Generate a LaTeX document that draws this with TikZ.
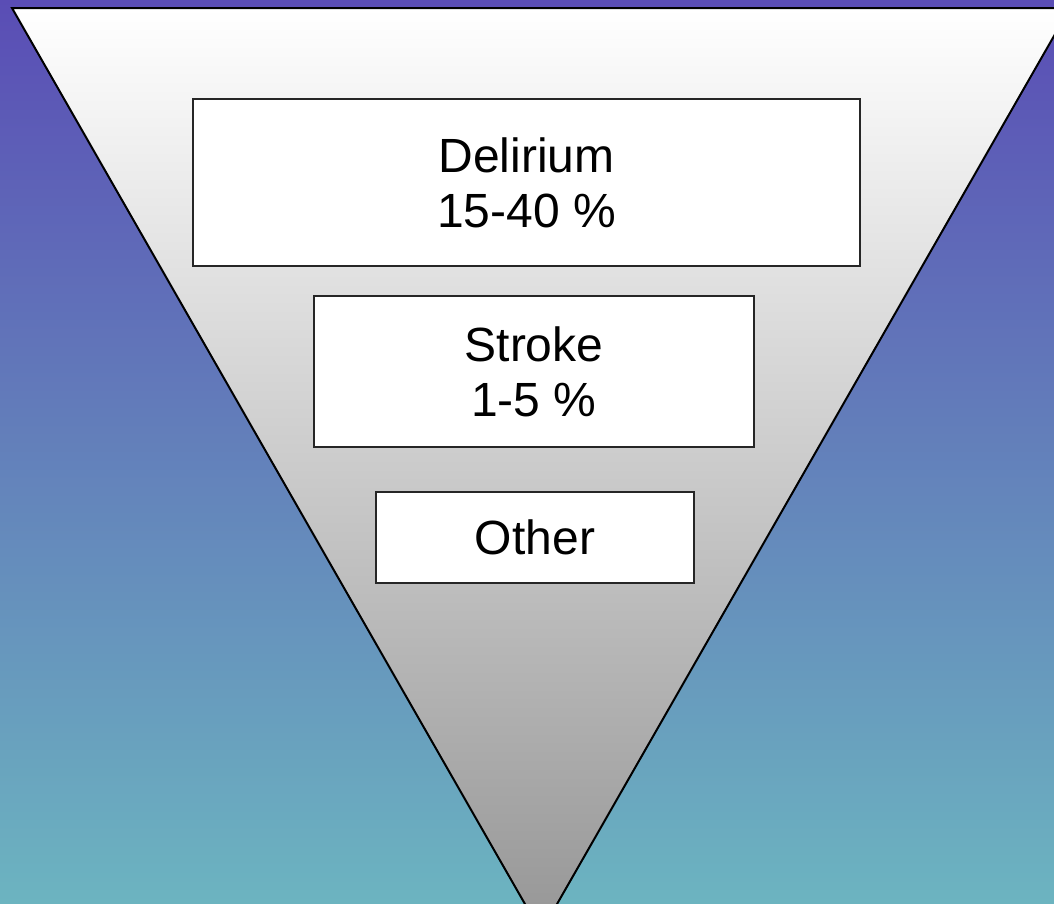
\documentclass[tikz,border=0pt]{standalone}
\usepackage{fontspec}
\setmainfont{Liberation Sans}
\definecolor{bgtop}{RGB}{90,77,181}
\definecolor{bgmid}{RGB}{104,145,188}
\definecolor{bgbot}{RGB}{108,180,192}
\definecolor{funtop}{RGB}{255,255,255}
\definecolor{funbot}{RGB}{150,150,150}
\tikzset{
  infobox/.style={draw=black!85, line width=1.4pt, fill=white, align=center,
    inner sep=0pt, font=\fontsize{48}{55}\selectfont},
  funnel/.style={draw=black, line width=2pt, line join=miter,
    top color=funtop, bottom color=funbot}
}
\begin{document}
\begin{tikzpicture}[x=1pt,y=-1pt]
  \useasboundingbox (0,0) rectangle (1054,903);
  % backdrop
  \shade[top color=bgtop, middle color=bgmid, bottom color=bgbot]
    (0,0) rectangle (1054,903);
  % inverted triangle
  \begin{scope}
    \clip (0,0) rectangle (1054,903);
    \path[funnel] (12,8) -- (1070,8) -- (541,932) -- cycle;
  \end{scope}
  % levels
  \node[infobox, minimum width=667pt, minimum height=167pt] (delirium)
    at (526.5,182.5) {Delirium\\15-40 \%};
  \node[infobox, minimum width=440pt, minimum height=151pt] (stroke)
    at (534,371.5) {Stroke\\1-5 \%};
  \node[infobox, minimum width=318pt, minimum height=91pt] (other)
    at (535,537.5) {Other};
\end{tikzpicture}
\end{document}
